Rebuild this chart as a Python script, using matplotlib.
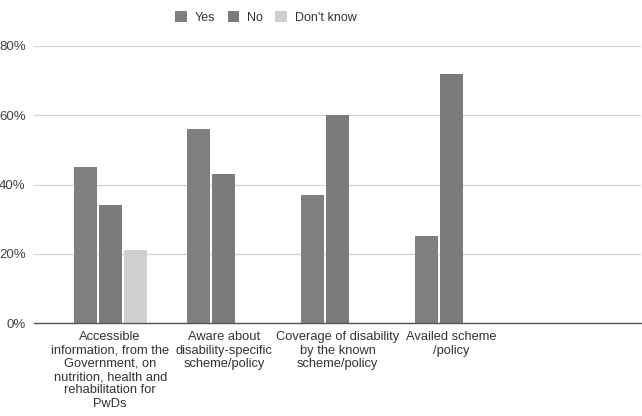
import numpy as np
import matplotlib.pyplot as plt
from matplotlib.ticker import PercentFormatter

plt.rcParams['font.family'] = ['Liberation Sans', 'DejaVu Sans']

categories = [
    'Accessible\ninformation, from the\nGovernment, on\nnutrition, health and\nrehabilitation for\nPwDs',
    'Aware about\ndisability-specific\nscheme/policy',
    'Coverage of disability\nby the known\nscheme/policy',
    'Availed scheme\n/policy',
]
yes_vals = [45, 56, 37, 25]
no_vals = [34, 43, 60, 72]
dont_know_vals = [21, 0, 0, 0]

series = [('Yes', yes_vals, '#7f7f7f'),
          ('No', no_vals, '#7b7b7b'),
          ("Don't know", dont_know_vals, '#cfcfcf')]

fig = plt.figure(figsize=(6.42, 4.16), dpi=100)
ax = fig.add_axes([34 / 642, 1 - 323 / 416, 607 / 642, 277 / 416])

x = np.arange(len(categories))
width = 0.2
step = 0.22
for i, (name, vals, color) in enumerate(series):
    ax.bar(x + (i - 1) * step, vals, width, color=color, label=name, zorder=3)

ax.set_xlim(-0.67, 4.67)
ax.set_ylim(0, 80)
ax.set_yticks([0, 20, 40, 60, 80])
ax.yaxis.set_major_formatter(PercentFormatter(decimals=0))
ax.set_xticks(x)
ax.set_xticklabels(categories, fontsize=9.3, color='#333333', linespacing=1.14)
ax.tick_params(axis='both', length=0)
ax.tick_params(axis='x', pad=6)
ax.tick_params(axis='y', labelsize=9.5, labelcolor='#444444', pad=6)

ax.grid(axis='y', color='#d4d4d4', linewidth=0.9, zorder=0)
for s in ['top', 'right', 'left']:
    ax.spines[s].set_visible(False)
ax.spines['bottom'].set_color('#555555')
ax.spines['bottom'].set_linewidth(1.0)
ax.spines['bottom'].set_zorder(4)

fig.legend(loc='upper center', bbox_to_anchor=(0.414, 1.0), ncol=3, frameon=False,
           fontsize=9, handlelength=0.95, handleheight=0.95, columnspacing=1.0,
           handletextpad=0.6, labelcolor='#333333')

fig.savefig('out.png', dpi=100)
